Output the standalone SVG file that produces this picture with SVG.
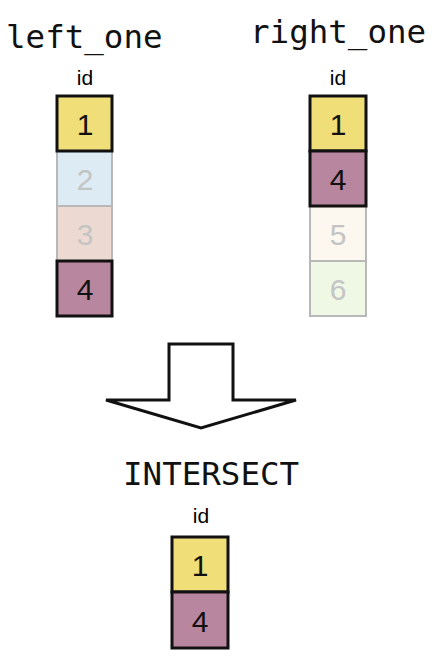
<svg xmlns="http://www.w3.org/2000/svg" width="438" height="672" viewBox="0 0 438 672">
<style>
.title{font-family:"DejaVu Sans Mono",monospace;font-size:32.5px;fill:#111}
.hdr{font-family:"Liberation Sans",Arial,sans-serif;font-size:21px;fill:#000;text-anchor:middle}
.num{font-family:"Liberation Sans",Arial,sans-serif;font-size:30px;text-anchor:middle}
.on{stroke:#111;stroke-width:3}
.off{stroke:#b8b8b8;stroke-width:2}
.ton{fill:#111}
.toff{fill:#c4c4c4}
</style>
<rect width="438" height="672" fill="#fff"/>
<g id="left_one">
<text class="title" x="6" y="48">left_one</text>
<text class="hdr" x="85" y="85">id</text>
<rect class="off" x="57" y="151" width="55" height="55" fill="#dcebf4"/>
<rect class="off" x="57" y="206" width="55" height="55" fill="#ecdad2"/>
<rect class="on" x="57" y="96" width="55" height="55" fill="#f0de78"/>
<rect class="on" x="57" y="261" width="55" height="55" fill="#b9869f"/>
<text class="num ton" x="85" y="135">1</text>
<text class="num toff" x="85" y="190">2</text>
<text class="num toff" x="85" y="245">3</text>
<text class="num ton" x="85" y="300">4</text>
</g>
<g id="right_one">
<text class="title" x="250" y="43">right_one</text>
<text class="hdr" x="338" y="85">id</text>
<rect class="off" x="310" y="206" width="56" height="55" fill="#fcf7ef"/>
<rect class="off" x="310" y="261" width="56" height="55" fill="#eef8e4"/>
<rect class="on" x="310" y="96" width="56" height="55" fill="#f0de78"/>
<rect class="on" x="310" y="151" width="56" height="55" fill="#b9869f"/>
<text class="num ton" x="338" y="135">1</text>
<text class="num ton" x="338" y="190">4</text>
<text class="num toff" x="338" y="245">5</text>
<text class="num toff" x="338" y="300">6</text>
</g>
<g id="connectors">
<polygon points="169,344 233,344 233,400 296,400 201,428 106,400 169,400" fill="#fff" stroke="#111" stroke-width="3" stroke-linejoin="miter"/>
</g>
<g id="intersect">
<text class="title" x="123" y="485">INTERSECT</text>
<text class="hdr" x="201" y="523">id</text>
<rect class="on" x="172" y="537" width="56" height="55" fill="#f0de78"/>
<rect class="on" x="172" y="592" width="56" height="56" fill="#b9869f"/>
<text class="num ton" x="200" y="576">1</text>
<text class="num ton" x="200" y="632">4</text>
</g>
</svg>
